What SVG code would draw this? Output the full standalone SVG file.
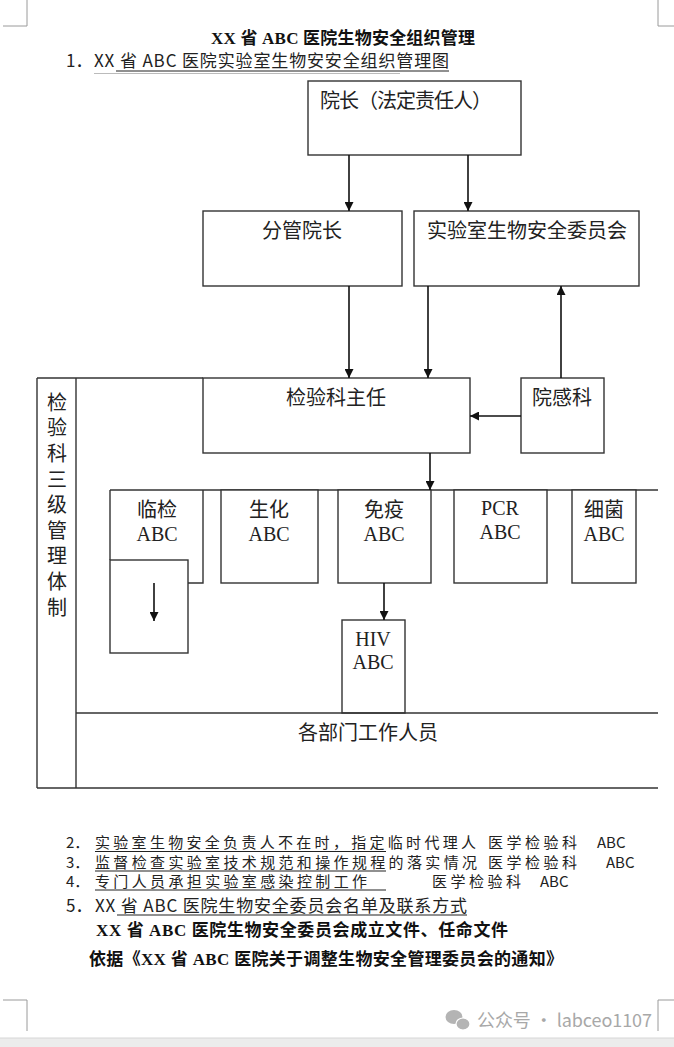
<svg xmlns="http://www.w3.org/2000/svg" width="674" height="1047" viewBox="0 0 674 1047">
<defs>
<style>
.box{fill:#fff;stroke:#333;stroke-width:1.4}
.ln{fill:none;stroke:#333;stroke-width:1.4}
.cn{fill:none;stroke:#111;stroke-width:1.6}
.lbl{font-family:"Noto Sans CJK SC","Liberation Sans",sans-serif;font-size:20px;fill:#222}
.abc{font-family:"Liberation Serif","Noto Sans CJK SC",serif;font-size:20px;fill:#222}
.txt{font-family:"Noto Sans CJK SC","Liberation Sans",sans-serif;font-size:17px;fill:#222}
.note{font-family:"Noto Sans CJK SC","Liberation Sans",sans-serif;font-size:15px;fill:#222}
.bold{font-family:"Liberation Serif","Noto Sans CJK SC",serif;font-size:17px;font-weight:bold;fill:#111}
.ul{stroke:#222;stroke-width:1.2}
.corner{fill:none;stroke:#9a9a9a;stroke-width:1}
</style>
<marker id="ah" markerUnits="userSpaceOnUse" markerWidth="9" markerHeight="9" refX="9" refY="4.5" orient="auto">
<path d="M0,0 L9,4.5 L0,9 z" fill="#111"/>
</marker>
</defs>
<rect width="674" height="1047" fill="#fff"/>
<rect x="0" y="1038" width="674" height="9" fill="#ececec"/>
<line x1="0" y1="1038" x2="674" y2="1038" stroke="#d6d6d6"/>
<g id="corners">
<path class="corner" d="M27,0 V26 H3"/>
<path class="corner" d="M658,0 V26 H674"/>
<path class="corner" d="M27,1031 V1000 H3"/>
<path class="corner" d="M658,1031 V1000 H674"/>
</g>
<g id="header">
<text class="bold" x="211" y="44" textLength="264">XX 省 ABC 医院生物安全组织管理</text>
<text class="txt" x="66" y="67">1．</text>
<text class="txt" x="94" y="67" textLength="355">XX 省 ABC 医院实验室生物安安全组织管理图</text>
<line class="ul" x1="116" y1="71" x2="449" y2="71"/>
<line x1="94" y1="73.5" x2="400" y2="73.5" stroke="#bbb" stroke-width="1"/>
</g>
<g id="frame">
<line class="ln" x1="37" y1="378" x2="37" y2="788"/>
<line class="ln" x1="76" y1="378" x2="76" y2="788"/>
<line class="ln" x1="37" y1="378" x2="203" y2="378"/>
<line class="ln" x1="37" y1="788" x2="658" y2="788"/>
<line class="ln" x1="110" y1="490" x2="658" y2="490"/>
</g>
<g id="node-column">
<text class="lbl" x="57" y="392" writing-mode="vertical-rl" letter-spacing="5.65">检验科三级管理体制</text>
</g>
<g id="node-dean">
<rect class="box" x="308" y="81" width="213" height="74"/>
<text class="lbl" x="320" y="108" textLength="172">院长（法定责任人）</text>
</g>
<g id="node-vice">
<rect class="box" x="203" y="211" width="199" height="75"/>
<text class="lbl" text-anchor="middle" x="302" y="238">分管院长</text>
</g>
<g id="node-committee">
<rect class="box" x="414" y="211" width="225" height="75"/>
<text class="lbl" x="427" y="238" textLength="200">实验室生物安全委员会</text>
</g>
<g id="node-director">
<rect class="box" x="203" y="378" width="267" height="75"/>
<text class="lbl" text-anchor="middle" x="336" y="405">检验科主任</text>
</g>
<g id="node-infection">
<rect class="box" x="521" y="378" width="83" height="75"/>
<text class="lbl" text-anchor="middle" x="562" y="405">院感科</text>
</g>
<g id="node-linjian">
<path class="ln" d="M110,490 V560 M203,490 V583 H188"/>
<text class="lbl" text-anchor="middle" x="157" y="517">临检</text>
<text class="abc" text-anchor="middle" x="157" y="541">ABC</text>
</g>
<g id="node-sub">
<rect class="box" x="110" y="560" width="78" height="93"/>
</g>
<g id="node-shenghua">
<rect class="box" x="221" y="490" width="97" height="93"/>
<text class="lbl" text-anchor="middle" x="269" y="517">生化</text>
<text class="abc" text-anchor="middle" x="269" y="541">ABC</text>
</g>
<g id="node-mianyi">
<rect class="box" x="338" y="490" width="93" height="93"/>
<text class="lbl" text-anchor="middle" x="384" y="517">免疫</text>
<text class="abc" text-anchor="middle" x="384" y="541">ABC</text>
</g>
<g id="node-pcr">
<rect class="box" x="454" y="490" width="93" height="93"/>
<text class="abc" text-anchor="middle" x="500" y="515">PCR</text>
<text class="abc" text-anchor="middle" x="500" y="539">ABC</text>
</g>
<g id="node-xijun">
<rect class="box" x="572" y="490" width="64" height="93"/>
<text class="lbl" text-anchor="middle" x="604" y="517">细菌</text>
<text class="abc" text-anchor="middle" x="604" y="541">ABC</text>
</g>
<g id="node-hiv">
<rect class="box" x="342" y="620" width="63" height="93"/>
<text class="abc" text-anchor="middle" x="373" y="646">HIV</text>
<text class="abc" text-anchor="middle" x="373" y="669">ABC</text>
</g>
<g id="node-staff">
<path class="ln" d="M76,713 H658"/>
<text class="lbl" text-anchor="middle" x="368" y="740">各部门工作人员</text>
</g>
<g id="connectors">
<line class="cn" x1="349" y1="155" x2="349" y2="211" marker-end="url(#ah)"/>
<line class="cn" x1="468" y1="155" x2="468" y2="211" marker-end="url(#ah)"/>
<line class="cn" x1="349" y1="286" x2="349" y2="378" marker-end="url(#ah)"/>
<line class="cn" x1="428" y1="286" x2="428" y2="378" marker-end="url(#ah)"/>
<line class="cn" x1="561" y1="378" x2="561" y2="286" marker-end="url(#ah)"/>
<line class="cn" x1="521" y1="416" x2="470" y2="416" marker-end="url(#ah)"/>
<line class="cn" x1="430" y1="453" x2="430" y2="490" marker-end="url(#ah)"/>
<line class="cn" x1="384" y1="583" x2="384" y2="620" marker-end="url(#ah)"/>
<line class="cn" x1="154" y1="583" x2="154" y2="621" marker-end="url(#ah)"/>
</g>
<g id="notes">
<text class="note" x="66" y="848">2．</text>
<text class="note" x="95" y="848" textLength="381">实验室生物安全负责人不在时，指定临时代理人</text>
<text class="note" x="488" y="848" textLength="89">医学检验科</text>
<text class="note" x="597" y="848">ABC</text>
<line class="ul" x1="95" y1="851.5" x2="386" y2="851.5"/>
<text class="note" x="66" y="868">3．</text>
<text class="note" x="95" y="868" textLength="382">监督检查实验室技术规范和操作规程的落实情况</text>
<text class="note" x="488" y="868" textLength="89">医学检验科</text>
<text class="note" x="606" y="868">ABC</text>
<line class="ul" x1="95" y1="871" x2="386" y2="871"/>
<text class="note" x="66" y="887">4．</text>
<text class="note" x="95" y="887" textLength="272">专门人员承担实验室感染控制工作</text>
<text class="note" x="432" y="887" textLength="89">医学检验科</text>
<text class="note" x="540" y="887">ABC</text>
<line class="ul" x1="95" y1="890" x2="386" y2="890"/>
<text class="txt" x="66" y="912">5．</text>
<text class="txt" x="95" y="912" textLength="372">XX 省 ABC 医院生物安全委员会名单及联系方式</text>
<line class="ul" x1="117" y1="915" x2="467" y2="915"/>
<text class="bold" x="96" y="936" textLength="412">XX 省 ABC 医院生物安全委员会成立文件、任命文件</text>
<text class="bold" x="89" y="965" textLength="474">依据《XX 省 ABC 医院关于调整生物安全管理委员会的通知》</text>
</g>
<g id="watermark">
<ellipse cx="454" cy="1017" rx="8.5" ry="7" fill="#b4b4b4"/>
<ellipse cx="463" cy="1024" rx="7" ry="6" fill="#b4b4b4" stroke="#fff" stroke-width="1.2"/>
<text x="477" y="1027" font-family="Noto Sans CJK SC, Liberation Sans, sans-serif" font-size="18" fill="#a8a8a8" textLength="175">公众号 · labceo1107</text>
</g>
</svg>
